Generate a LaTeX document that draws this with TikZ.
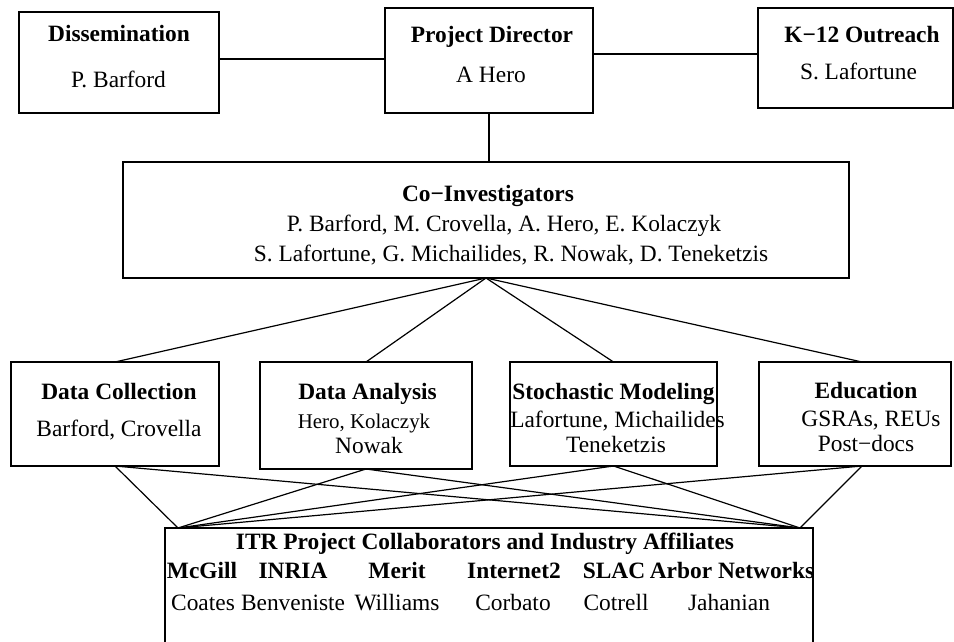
\documentclass[tikz,border=0pt]{standalone}
\usepackage{fontspec}
\setmainfont{Liberation Serif}
\tikzset{
  box/.style={draw, line width=0.6pt, inner sep=0pt, outer sep=0pt},
  lab/.style={anchor=base, inner sep=0pt, font=\fontsize{11.7}{14}\selectfont},
  ttl/.style={anchor=base, inner sep=0pt, font=\fontsize{11.7}{14}\selectfont\bfseries},
  sml/.style={anchor=base, inner sep=0pt, font=\fontsize{10.45}{12}\selectfont},
  link/.style={line width=0.6pt},
}
\begin{document}
\begin{tikzpicture}[x=0.5pt,y=-0.5pt]
\useasboundingbox (0,0) rectangle (954,642);
\clip (0,0) rectangle (954,642);
% boxes
\node[box, minimum width=100pt, minimum height=50.5pt] (diss) at (119,62.5) {};
\node[box, minimum width=104pt, minimum height=52.5pt] (pd) at (489,60.5) {};
\node[box, minimum width=97.5pt, minimum height=50pt] (k12) at (855.5,58) {};
\node[box, minimum width=363pt, minimum height=58pt] (coi) at (486,220) {};
\node[box, minimum width=104pt, minimum height=52pt] (dc) at (115,414) {};
\node[box, minimum width=106pt, minimum height=53.5pt] (da) at (366,415.5) {};
\node[box, minimum width=103.5pt, minimum height=52pt] (sm) at (613.5,414) {};
\node[box, minimum width=96pt, minimum height=52pt] (ed) at (855,414) {};
\node[box, minimum width=324pt, minimum height=86pt] (itr) at (489,614) {};
% texts
\node[ttl] (dissT) at (119,42) {Dissemination};
\node[lab] (dissN) at (118.5,88) {P. Barford};
\node[ttl] (pdT) at (492,43) {Project Director};
\node[lab] (pdN) at (491,83) {A Hero};
\node[ttl] (k12T) at (862,43) {K−12 Outreach};
\node[lab] (k12N) at (858.5,80) {S. Lafortune};
\node[ttl] (coiT) at (488,201) {Co−Investigators};
\node[lab] (coiA) at (504,232) {P. Barford, M. Crovella, A. Hero, E. Kolaczyk};
\node[lab] (coiB) at (511,262) {S. Lafortune, G. Michailides, R. Nowak, D. Teneketzis};
\node[ttl] (dcT) at (119,399) {Data Collection};
\node[lab] (dcN) at (119,436) {Barford, Crovella};
\node[ttl] (daT) at (367.5,399) {Data Analysis};
\node[sml] (daN) at (364,428) {Hero, Kolaczyk};
\node[lab] (daM) at (369,453) {Nowak};
\node[ttl] (smT) at (613.5,399) {Stochastic Modeling};
\node[lab] (smN) at (617.5,427) {Lafortune, Michailides};
\node[lab] (smM) at (616,452) {Teneketzis};
\node[ttl] (edT) at (866,398) {Education};
\node[lab] (edN) at (871,426) {GSRAs, REUs};
\node[lab] (edM) at (866,451) {Post−docs};
\node[ttl] (itrT) at (485,549) {ITR Project Collaborators and Industry Affiliates};
\node[ttl] (o1) at (202,578) {McGill};
\node[ttl] (o2) at (293,578) {INRIA};
\node[ttl] (o3) at (397,578) {Merit};
\node[ttl] (o4) at (514,578) {Internet2};
\node[ttl] (o5) at (614,578) {SLAC};
\node[ttl] (o6) at (732,578) {Arbor Networks};
\node[lab] (p1) at (203,610) {Coates};
\node[lab] (p2) at (293,610) {Benveniste};
\node[lab] (p3) at (397,610) {Williams};
\node[lab] (p4) at (513,610) {Corbato};
\node[lab] (p5) at (616,610) {Cotrell};
\node[lab] (p6) at (729,610) {Jahanian};
% attach points
\coordinate (edTop) at ([xshift=3.5pt]ed.north);
\coordinate (edBot) at ([xshift=3.5pt]ed.south);
\coordinate (itrL) at ([xshift=6.5pt]itr.north west);
\coordinate (itrR) at ([xshift=-6.5pt]itr.north east);
% connectors
\draw[link] ([yshift=1.75pt]diss.east) -- ([yshift=0.75pt]pd.west);
\draw[link] ([yshift=3.25pt]pd.east) -- ([yshift=2pt]k12.west);
\draw[link] (pd.south) -- (pd.south |- coi.north);
\draw[link] (coi.south) -- (dc.north);
\draw[link] (coi.south) -- (da.north);
\draw[link] (coi.south) -- (sm.north);
\draw[link] (coi.south) -- (edTop);
\foreach \s in {dc.south, da.south, sm.south, edBot} {
  \draw[link] (\s) -- (itrL);
  \draw[link] (\s) -- (itrR);
}
\end{tikzpicture}
\end{document}
